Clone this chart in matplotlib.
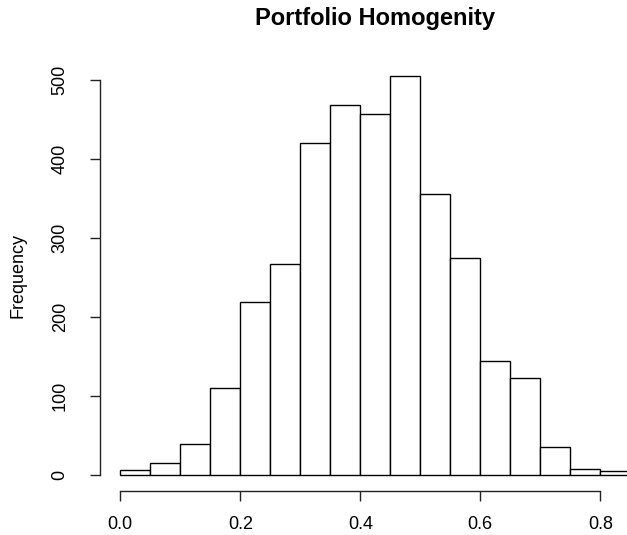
import numpy as np
import matplotlib
matplotlib.use("Agg")
import matplotlib.pyplot as plt
from matplotlib import font_manager as fm

# Regular-width Liberation Sans files (skip the Narrow variant)
def _liberation(weight_bold):
    for f in fm.fontManager.ttflist:
        name = f.fname.lower()
        if "liberationsans" in name.replace("-", "").replace("_", "") and "narrow" not in name:
            is_bold = "bold" in name
            is_italic = "italic" in name
            if is_bold == weight_bold and not is_italic:
                return fm.FontProperties(fname=f.fname)
    return fm.FontProperties(family="DejaVu Sans",
                             weight="bold" if weight_bold else "normal")

font_regular = _liberation(False)
font_bold = _liberation(True)

# Histogram bins (width 0.05) and counts per bin
bin_edges = [0.00, 0.05, 0.10, 0.15, 0.20, 0.25, 0.30, 0.35, 0.40, 0.45,
             0.50, 0.55, 0.60, 0.65, 0.70, 0.75, 0.80, 0.85]
counts = [6, 15, 39, 110, 219, 267, 420, 468, 457, 505,
          356, 275, 144, 123, 36, 8, 5]

x_ticks = [0.0, 0.2, 0.4, 0.6, 0.8]
x_tick_labels = ["0.0", "0.2", "0.4", "0.6", "0.8"]
y_ticks = [0, 100, 200, 300, 400, 500]
y_tick_labels = ["0", "100", "200", "300", "400", "500"]

W, H = 627, 535
fig = plt.figure(figsize=(W / 100, H / 100), dpi=100)

# plot region in pixels (extends past the right edge of the figure)
left_px, right_px, top_px, bottom_px = 99.9, 650.7, 59.8, 491.0
ax = fig.add_axes([left_px / W, 1 - bottom_px / H,
                   (right_px - left_px) / W, (bottom_px - top_px) / H])

widths = np.diff(bin_edges)
ax.bar(bin_edges[:-1], counts, width=widths, align="edge",
       facecolor="white", edgecolor="black", linewidth=1.0)

lo, hi = bin_edges[0], bin_edges[-1]
ax.set_xlim(lo - 0.04 * (hi - lo), hi + 0.04 * (hi - lo))
ymax = max(counts)
ax.set_ylim(-0.04 * ymax, ymax * 1.04)

for side in ("top", "right"):
    ax.spines[side].set_visible(False)
ax.spines["left"].set_bounds(y_ticks[0], y_ticks[-1])
ax.spines["bottom"].set_bounds(x_ticks[0], x_ticks[-1])
for side in ("left", "bottom"):
    ax.spines[side].set_linewidth(1.0)
    ax.spines[side].set_color("#222222")

ax.set_xticks(x_ticks)
ax.set_xticklabels(x_tick_labels, fontproperties=font_regular, fontsize=13)
ax.set_yticks(y_ticks)
ax.set_yticklabels(y_tick_labels, rotation=90, va="center",
                   fontproperties=font_regular, fontsize=13)
ax.tick_params(axis="x", direction="out", length=7, width=1.0,
               pad=11, color="#222222")
ax.tick_params(axis="y", direction="out", length=7.5, width=1.0,
               pad=15, color="#222222")

ax.set_ylabel("Frequency", fontproperties=font_regular, fontsize=13, labelpad=18)
fig.text((left_px + right_px) / 2 / W, 1 - 18 / H, "Portfolio Homogenity",
         ha="center", va="center", fontproperties=font_bold, fontsize=17)

fig.savefig("out.png", dpi=100)
